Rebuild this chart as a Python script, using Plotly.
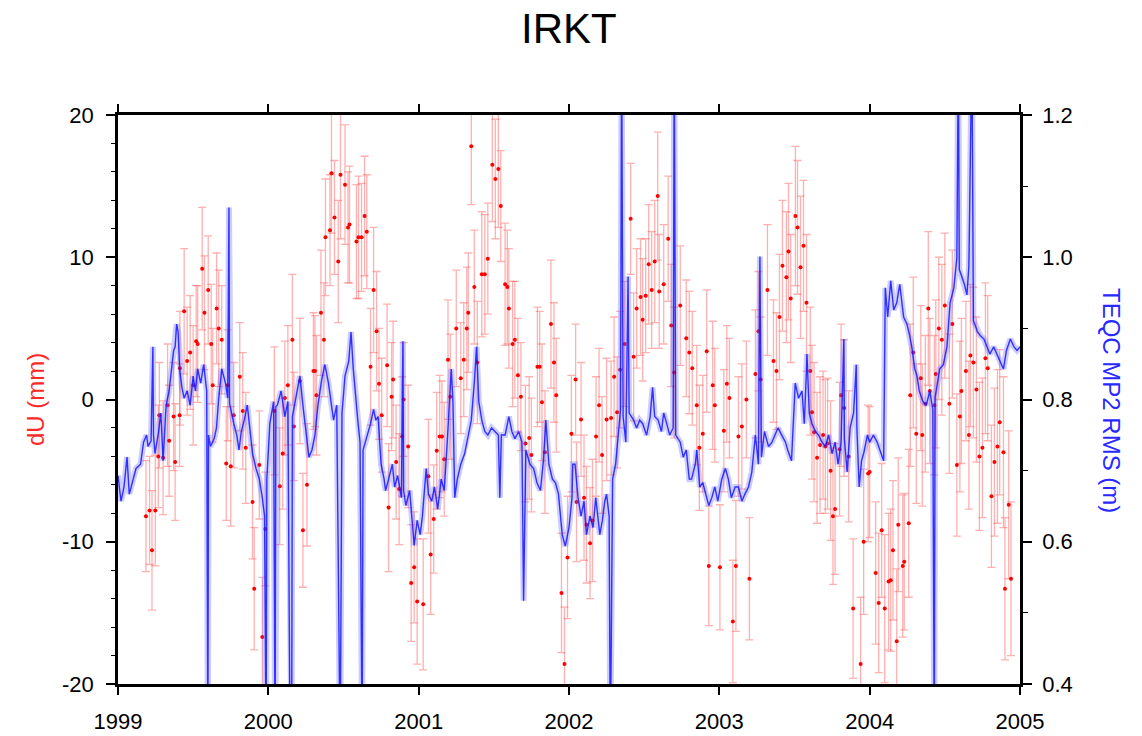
import plotly.graph_objects as go

# ---------------- red series: dU (mm) with error bars ----------------
red_t_a = [1999.186, 1999.21, 1999.226, 1999.248, 1999.268, 1999.275, 1999.30, 1999.33, 1999.34, 1999.37,
           1999.38, 1999.41, 1999.412, 1999.44, 1999.46, 1999.48, 1999.50, 1999.52, 1999.53, 1999.56,
           1999.575, 1999.60, 1999.62, 1999.63, 1999.656, 1999.67, 1999.69, 1999.72, 1999.73, 1999.75,
           1999.77, 1999.81, 1999.83, 1999.85, 1999.895, 1999.906, 1999.94, 1999.96, 1999.98, 2000.04,
           2000.076, 2000.096, 2000.11, 2000.13, 2000.16, 2000.17, 2000.21, 2000.23, 2000.257, 2000.30,
           2000.31, 2000.32, 2000.35, 2000.37, 2000.38, 2000.41, 2000.42]
red_u_a = [-8.2, -7.8, -10.6, -7.8, -4.0, -1.1, -4.1, -0.4, -2.9, -1.2,
           -4.4, -1.1, 2.2, 6.2, 2.7, 3.3, 1.0, 4.1, 3.9, 9.2,
           6.1, 7.7, 3.9, 1.0, 6.4, 5.0, 4.2, -4.5, 1.0, -4.7,
           -1.1, 1.6, -0.8, -3.4, -7.2, -13.3, -4.6, -16.7, -9.1, -0.8,
           -6.1, -3.8, 0.1, 1.0, 4.2, -1.9, 1.3, -9.2, -6.0, 2.0,
           2.0, 0.3, 6.1, 4.2, 11.4, 11.9, 15.9]
red_e_a = [3.9, 3.8, 4.2, 3.9, 3.6, 3.7, 4.0, 4.3, 3.9, 3.8,
           4.1, 3.6, 4.0, 4.4, 3.8, 4.0, 4.2, 3.9, 4.1, 4.3,
           4.0, 3.8, 4.2, 4.0, 3.9, 4.1, 3.8, 4.0, 3.9, 4.2,
           3.7, 3.8, 4.1, 3.9, 4.0, 4.3, 3.8, 4.2, 4.0, 4.5,
           4.1, 3.9, 4.0, 4.2, 4.6, 3.8, 4.4, 4.0, 4.3, 4.1,
           3.9, 4.2, 4.4, 4.0, 4.1, 3.9, 4.2]

red_t_b = [2000.44, 2000.465, 2000.48, 2000.51, 2000.53, 2000.54, 2000.586, 2000.60, 2000.62, 2000.64,
           2000.655, 2000.68, 2000.70, 2000.72, 2000.736, 2000.754, 2000.79, 2000.80, 2000.82, 2000.83,
           2000.85, 2000.87, 2000.89, 2000.90, 2000.93, 2000.95, 2000.97, 2000.99, 2001.03, 2001.065,
           2001.08, 2001.10, 2001.12, 2001.14, 2001.155, 2001.17, 2001.195, 2001.21, 2001.25, 2001.28,
           2001.30, 2001.32, 2001.33, 2001.35, 2001.37, 2001.39, 2001.42, 2001.44, 2001.46, 2001.49,
           2001.51, 2001.53, 2001.546, 2001.575, 2001.59, 2001.60, 2001.625, 2001.64, 2001.66, 2001.68,
           2001.71, 2001.735, 2001.75, 2001.79, 2001.805, 2001.82, 2001.84, 2001.88, 2001.90, 2001.915]
red_u_b = [12.8, 9.7, 15.8, 15.1, 12.1, 12.3, 11.1, 11.4, 11.4, 12.9,
           11.8, 2.3, 7.7, 4.8, 1.1, -1.1, 2.4, -7.6, 0.2, 1.4,
           -4.4, -6.3, -2.6, 0.0, -3.3, -12.9, -11.8, -14.2, -14.4, -5.4,
           -10.9, -8.4, -3.6, -2.6, -2.6, -4.2, 2.8, 0.2, 5.0, 1.5,
           2.8, 5.0, 6.1, 17.8, 7.9, 2.6, 8.8, 8.8, 9.9, 16.5,
           15.5, 16.2, 13.6, 8.1, 7.9, 6.4, 3.9, 4.2, 1.7, 0.2,
           -3.1, -2.7, -3.9, 2.3, 2.3, -0.2, -3.7, 5.3, 2.6, 0.3]
red_e_b = [4.0, 4.3, 4.5, 4.2, 3.9, 4.1, 4.0, 4.3, 3.8, 4.2,
           4.0, 4.1, 4.4, 4.2, 3.9, 4.0, 4.3, 4.5, 3.8, 4.1,
           4.0, 3.9, 4.2, 4.0, 4.3, 4.1, 3.9, 4.4, 4.6, 4.0,
           4.2, 3.8, 4.1, 4.3, 3.9, 4.0, 4.2, 4.4, 4.1, 3.9,
           4.0, 4.3, 4.2, 4.1, 4.0, 4.3, 4.4, 4.2, 3.9, 4.0,
           4.2, 4.1, 3.9, 4.3, 4.0, 4.2, 4.4, 4.1, 4.0, 3.8,
           4.1, 4.3, 4.0, 4.2, 3.9, 4.1, 4.3, 4.5, 4.2, 4.0]

red_t_c = [2001.95, 2001.97, 2001.99, 2002.016, 2002.044, 2002.05, 2002.08, 2002.10, 2002.116, 2002.14,
           2002.156, 2002.18, 2002.20, 2002.22, 2002.25, 2002.28, 2002.30, 2002.32, 2002.34, 2002.37,
           2002.41, 2002.43, 2002.45, 2002.476, 2002.49, 2002.51, 2002.53, 2002.55, 2002.57, 2002.59,
           2002.60, 2002.63, 2002.66, 2002.68, 2002.70, 2002.74, 2002.78, 2002.80, 2002.82, 2002.85,
           2002.867, 2002.89, 2002.916, 2002.93, 2002.956, 2002.97, 2003.004, 2003.03, 2003.05, 2003.067,
           2003.09, 2003.11, 2003.127, 2003.15, 2003.18, 2003.20, 2003.24, 2003.26, 2003.275, 2003.32,
           2003.36, 2003.38, 2003.40, 2003.42]
red_u_c = [-13.6, -18.6, -11.1, -2.4, 1.4, -7.2, -1.4, -6.9, -8.8, -10.1,
           -8.5, -2.6, -0.4, -3.9, -1.4, -1.3, 1.6, -0.9, 2.1, 3.9,
           12.7, 3.0, 6.4, 7.2, 5.6, 7.3, 9.5, 7.7, 9.7, 14.3,
           7.6, 8.1, 11.3, 5.2, 1.9, 6.6, 4.3, 3.3, 2.2, -0.4,
           -3.4, -2.4, 3.4, -11.7, 1.0, -0.4, -11.8, -2.2, 1.1, 0.1,
           -15.6, -11.7, -2.6, -1.9, 0.0, -12.6, 1.8, 4.8, 1.4, 7.7,
           2.7, 2.0, 5.8, 9.4]
red_e_c = [4.2, 4.0, 4.3, 4.1, 3.9, 4.2, 4.0, 4.4, 4.1, 3.9,
           4.3, 4.2, 4.0, 4.1, 4.3, 4.0, 4.2, 3.9, 4.1, 4.4,
           3.9, 4.5, 4.2, 4.1, 4.3, 4.0, 4.2, 4.1, 4.3, 4.5,
           4.0, 4.2, 4.4, 4.3, 4.6, 4.2, 4.1, 4.3, 4.0, 4.2,
           4.4, 4.1, 4.3, 4.2, 4.5, 4.0, 4.4, 4.3, 4.1, 4.2,
           4.3, 4.6, 4.2, 4.4, 4.1, 4.3, 4.5, 4.2, 4.4, 4.6,
           4.3, 4.1, 4.4, 4.6]

red_t_d = [2003.446, 2003.46, 2003.475, 2003.506, 2003.52, 2003.54, 2003.56, 2003.58, 2003.605, 2003.616,
           2003.63, 2003.65, 2003.67, 2003.69, 2003.705, 2003.72, 2003.74, 2003.756, 2003.77, 2003.80,
           2003.81, 2003.83, 2003.86, 2003.89, 2003.94, 2003.96, 2003.99, 2004.00, 2004.04, 2004.06,
           2004.08, 2004.10, 2004.126, 2004.14, 2004.155, 2004.18, 2004.19, 2004.22, 2004.23, 2004.26,
           2004.27, 2004.29, 2004.31, 2004.34, 2004.35, 2004.37, 2004.39, 2004.40, 2004.43, 2004.44,
           2004.46, 2004.48, 2004.50, 2004.53, 2004.55, 2004.58, 2004.60, 2004.61, 2004.64, 2004.66,
           2004.67, 2004.69, 2004.71, 2004.73, 2004.75, 2004.77, 2004.785, 2004.81, 2004.83, 2004.85,
           2004.865, 2004.89, 2004.90, 2004.925, 2004.94]
red_u_d = [8.6, 10.4, 7.1, 12.9, 12.1, 9.3, 10.8, 6.8, 2.0, -0.9,
           -2.3, -4.1, -3.2, -2.5, -3.3, -3.1, -5.0, -8.2, -7.7, -3.5,
           0.3, -0.6, -4.0, -14.7, -18.6, -10.0, -5.2, -5.1, -12.2, -14.3,
           -9.2, -14.7, -12.8, -12.7, -10.6, -17.0, -8.8, -11.7, -11.4, -8.7,
           0.3, 3.3, -2.4, 1.5, -2.5, -0.3, 6.4, 0.6, -0.4, 1.8,
           5.0, 4.2, 6.6, -0.3, 5.3, -4.6, -1.2, 0.6, 2.0, -2.5,
           3.1, 2.6, 0.7, -4.0, -3.4, 2.9, 2.2, -6.8, -4.4, -3.3,
           -1.6, -3.7, -13.3, -7.4, -12.6]
red_e_d = [4.6, 4.8, 4.5, 4.9, 4.7, 5.0, 4.6, 4.8, 4.5, 4.7,
           4.9, 4.6, 4.8, 4.5, 4.7, 4.6, 4.9, 4.8, 4.6, 4.7,
           5.0, 4.8, 4.6, 4.9, 4.7, 5.1, 4.8, 4.6, 5.0, 4.9,
           4.7, 5.2, 4.8, 5.0, 4.9, 5.1, 4.7, 5.0, 4.8, 5.2,
           5.0, 5.3, 4.9, 5.1, 5.0, 4.8, 5.4, 5.1, 4.9, 5.2,
           5.0, 5.3, 5.1, 4.9, 5.2, 5.0, 5.3, 5.1, 4.9, 5.2,
           5.0, 5.3, 5.1, 5.2, 4.9, 5.3, 5.1, 5.0, 5.2, 5.4,
           5.1, 5.3, 5.0, 5.2, 5.4]

# ---------------- blue series: TEQC MP2 RMS (m) ----------------
blue_t_a = [1999.00, 1999.02, 1999.04, 1999.06, 1999.075, 1999.10, 1999.12, 1999.15, 1999.17, 1999.19,
            1999.20, 1999.22, 1999.232, 1999.236, 1999.246, 1999.27, 1999.285, 1999.30, 1999.32, 1999.34,
            1999.358, 1999.37, 1999.38, 1999.39, 1999.40, 1999.41, 1999.425, 1999.44, 1999.46, 1999.48,
            1999.50, 1999.515, 1999.53, 1999.55, 1999.57, 1999.59, 1999.598, 1999.602, 1999.615, 1999.64,
            1999.655, 1999.67, 1999.69, 1999.715, 1999.73, 1999.738, 1999.742, 1999.75, 1999.77, 1999.79,
            1999.805, 1999.82, 1999.84, 1999.86, 1999.88, 1999.895, 1999.918, 1999.94, 1999.96, 1999.975,
            1999.985, 1999.99, 2000.01, 2000.035, 2000.045, 2000.05, 2000.06, 2000.085, 2000.11, 2000.13,
            2000.145, 2000.155, 2000.16, 2000.19, 2000.21, 2000.23, 2000.25, 2000.27, 2000.29, 2000.31,
            2000.33, 2000.355, 2000.376, 2000.40, 2000.42]
blue_v_a = [0.693, 0.657, 0.677, 0.719, 0.667, 0.688, 0.703, 0.709, 0.740, 0.750,
            0.734, 0.742, 0.874, 0.750, 0.724, 0.755, 0.781, 0.714, 0.792, 0.812,
            0.843, 0.869, 0.874, 0.906, 0.895, 0.843, 0.817, 0.802, 0.812, 0.792,
            0.833, 0.812, 0.843, 0.823, 0.849, 0.812, 0.300, 0.750, 0.734, 0.745,
            0.760, 0.802, 0.843, 0.823, 0.802, 1.070, 0.795, 0.786, 0.766, 0.750,
            0.729, 0.755, 0.771, 0.792, 0.750, 0.724, 0.703, 0.688, 0.662, 0.636,
            0.300, 0.688, 0.766, 0.797, 0.300, 0.790, 0.792, 0.812, 0.776, 0.797,
            0.300, 0.300, 0.776, 0.812, 0.833, 0.792, 0.755, 0.719, 0.729, 0.750,
            0.792, 0.828, 0.849, 0.823, 0.792]

blue_t_b = [2000.434, 2000.455, 2000.478, 2000.49, 2000.51, 2000.535, 2000.55, 2000.565, 2000.58, 2000.595,
            2000.61, 2000.624, 2000.63, 2000.66, 2000.68, 2000.70, 2000.715, 2000.73, 2000.75, 2000.77,
            2000.78, 2000.80, 2000.825, 2000.84, 2000.86, 2000.885, 2000.895, 2000.90, 2000.915, 2000.94,
            2000.95, 2000.97, 2000.99, 2001.01, 2001.025, 2001.05, 2001.065, 2001.087, 2001.105, 2001.127,
            2001.15, 2001.17, 2001.19, 2001.206, 2001.217, 2001.228, 2001.24, 2001.257, 2001.28, 2001.306,
            2001.33, 2001.35, 2001.37, 2001.385, 2001.40, 2001.42, 2001.44, 2001.46, 2001.485, 2001.51,
            2001.53, 2001.54, 2001.55, 2001.575, 2001.60, 2001.62, 2001.64, 2001.665, 2001.687, 2001.698,
            2001.713, 2001.74, 2001.765, 2001.787, 2001.81, 2001.83, 2001.846, 2001.866, 2001.89, 2001.91,
            2001.93]
blue_v_b = [0.771, 0.792, 0.300, 0.781, 0.833, 0.854, 0.895, 0.843, 0.802, 0.771,
            0.740, 0.300, 0.729, 0.750, 0.766, 0.786, 0.771, 0.776, 0.709, 0.688,
            0.672, 0.688, 0.709, 0.677, 0.693, 0.662, 0.882, 0.672, 0.651, 0.672,
            0.646, 0.595, 0.630, 0.610, 0.636, 0.703, 0.667, 0.657, 0.677, 0.646,
            0.688, 0.672, 0.740, 0.812, 0.843, 0.797, 0.662, 0.688, 0.709, 0.724,
            0.750, 0.771, 0.823, 0.874, 0.797, 0.771, 0.755, 0.750, 0.760, 0.755,
            0.750, 0.662, 0.750, 0.750, 0.776, 0.755, 0.745, 0.755, 0.740, 0.517,
            0.729, 0.709, 0.703, 0.683, 0.672, 0.714, 0.771, 0.709, 0.688, 0.683,
            0.667]

blue_t_c = [2001.955, 2001.975, 2002.00, 2002.02, 2002.025, 2002.04, 2002.06, 2002.08, 2002.10, 2002.116,
            2002.14, 2002.16, 2002.178, 2002.194, 2002.205, 2002.222, 2002.238, 2002.25, 2002.267, 2002.275,
            2002.29, 2002.31, 2002.33, 2002.343, 2002.35, 2002.36, 2002.378, 2002.393, 2002.40, 2002.43,
            2002.45, 2002.47, 2002.49, 2002.516, 2002.54, 2002.556, 2002.57, 2002.593, 2002.615, 2002.63,
            2002.65, 2002.67, 2002.693, 2002.70, 2002.71, 2002.74, 2002.76, 2002.78, 2002.80, 2002.815,
            2002.84, 2002.85, 2002.87, 2002.89, 2002.916, 2002.93, 2002.95, 2002.97, 2002.99, 2003.016,
            2003.04, 2003.06, 2003.08, 2003.105, 2003.127, 2003.15, 2003.17, 2003.194, 2003.216, 2003.24,
            2003.26, 2003.27, 2003.28, 2003.30, 2003.327, 2003.35, 2003.37, 2003.39, 2003.415]
blue_v_c = [0.610, 0.594, 0.620, 0.662, 0.709, 0.709, 0.662, 0.636, 0.657, 0.610,
            0.636, 0.620, 0.662, 0.636, 0.610, 0.630, 0.657, 0.667, 0.636, 0.300,
            0.688, 0.709, 0.750, 0.786, 1.300, 0.776, 0.740, 0.973, 0.781, 0.771,
            0.760, 0.771, 0.766, 0.750, 0.776, 0.817, 0.776, 0.771, 0.755, 0.781,
            0.766, 0.750, 0.760, 1.300, 0.750, 0.740, 0.719, 0.729, 0.688, 0.688,
            0.709, 0.729, 0.677, 0.683, 0.662, 0.651, 0.662, 0.677, 0.657, 0.688,
            0.703, 0.688, 0.662, 0.677, 0.677, 0.657, 0.667, 0.677, 0.698, 0.750,
            0.709, 1.001, 0.719, 0.755, 0.734, 0.740, 0.750, 0.760, 0.750]

blue_t_d = [2003.44, 2003.455, 2003.48, 2003.505, 2003.527, 2003.55, 2003.565, 2003.58, 2003.583, 2003.598,
            2003.616, 2003.64, 2003.66, 2003.683, 2003.705, 2003.727, 2003.75, 2003.77, 2003.79, 2003.81,
            2003.828, 2003.832, 2003.85, 2003.87, 2003.893, 2003.911, 2003.915, 2003.93, 2003.946, 2003.96,
            2003.985, 2004.00, 2004.025, 2004.05, 2004.07, 2004.093, 2004.104, 2004.12, 2004.14, 2004.16,
            2004.18, 2004.20, 2004.226, 2004.248, 2004.266, 2004.28, 2004.30, 2004.315, 2004.33, 2004.355,
            2004.377, 2004.40, 2004.42, 2004.43, 2004.435, 2004.466, 2004.49, 2004.514, 2004.535, 2004.56,
            2004.58, 2004.59, 2004.596, 2004.63, 2004.647, 2004.66, 2004.68, 2004.69, 2004.718, 2004.735,
            2004.76, 2004.78, 2004.80, 2004.825, 2004.847, 2004.87, 2004.89, 2004.91, 2004.936, 2004.96,
            2004.98, 2005.00]
blue_v_d = [0.740, 0.729, 0.714, 0.823, 0.802, 0.812, 0.766, 0.843, 0.864, 0.781,
            0.766, 0.755, 0.750, 0.740, 0.734, 0.750, 0.724, 0.740, 0.709, 0.740,
            0.885, 0.745, 0.698, 0.760, 0.781, 0.849, 0.760, 0.677, 0.714, 0.724,
            0.750, 0.740, 0.750, 0.740, 0.729, 0.714, 0.957, 0.916, 0.967, 0.926,
            0.936, 0.962, 0.916, 0.906, 0.890, 0.874, 0.843, 0.833, 0.812, 0.797,
            0.792, 0.812, 0.786, 0.300, 0.802, 0.843, 0.849, 0.874, 0.936, 0.957,
            0.999, 1.300, 0.983, 0.962, 0.947, 0.988, 1.300, 0.911, 0.895, 0.890,
            0.885, 0.874, 0.864, 0.874, 0.864, 0.854, 0.843, 0.869, 0.885, 0.874,
            0.869, 0.874]

red_t = red_t_a + red_t_b + red_t_c + red_t_d
red_u = red_u_a + red_u_b + red_u_c + red_u_d
red_e = red_e_a + red_e_b + red_e_c + red_e_d
blue_t = blue_t_a + blue_t_b + blue_t_c + blue_t_d
blue_v = blue_v_a + blue_v_b + blue_v_c + blue_v_d

year_ticks = [1999, 2000, 2001, 2002, 2003, 2004, 2005]
du_ticks = [-20, -10, 0, 10, 20]
du_tick_text = ["-20", "-10", "0", "10", "20"]
rms_ticks = [0.4, 0.6, 0.8, 1.0, 1.2]
rms_tick_text = ["0.4", "0.6", "0.8", "1.0", "1.2"]

FONT = "Liberation Sans, Arial, Helvetica, sans-serif"

fig = go.Figure()

# light blue envelope under the daily line
fig.add_trace(go.Scatter(x=blue_t, y=blue_v, yaxis="y2", mode="lines",
                         line=dict(color="rgba(90,90,255,0.30)", width=6),
                         hoverinfo="skip", showlegend=False))
fig.add_trace(go.Scatter(x=blue_t, y=blue_v, yaxis="y2", mode="lines",
                         line=dict(color="rgba(20,20,255,0.85)", width=1.4),
                         showlegend=False))

fig.add_trace(go.Scatter(x=red_t, y=red_u, mode="markers",
                         marker=dict(color="rgb(255,0,0)", size=4),
                         error_y=dict(type="data", array=red_e, visible=True,
                                      color="rgba(255,80,80,0.45)", thickness=1.3, width=4),
                         showlegend=False))

axis_common = dict(showgrid=False, zeroline=False, showline=True, linecolor="black",
                   linewidth=2.5, ticks="outside", tickcolor="black", tickwidth=1.5,
                   automargin=False,
                   tickfont=dict(family=FONT, size=22, color="black"))

minor_du = [v for v in range(-20, 21, 2)]
minor_rms = [round(0.4 + 0.1 * i, 1) for i in range(9)]

fig.update_layout(
    width=1142, height=736,
    margin=dict(l=118, r=122, t=115, b=52, autoexpand=False),
    paper_bgcolor="white", plot_bgcolor="white",
    font=dict(family=FONT),
    xaxis=dict(range=[1999, 2005], tickmode="array", tickvals=year_ticks,
               ticktext=[str(y) for y in year_ticks], ticklen=8, mirror="ticks",
               ticklabelstandoff=8, **axis_common),
    yaxis=dict(range=[-20, 20], tickmode="array", tickvals=du_ticks, ticktext=du_tick_text,
               ticklen=9, ticklabelstandoff=8,
               minor=dict(tickmode="array", tickvals=minor_du, ticks="outside", ticklen=4,
                          tickcolor="black", tickwidth=1),
               **axis_common),
    yaxis2=dict(range=[0.4, 1.2], overlaying="y", side="right", tickmode="array",
                tickvals=rms_ticks, ticktext=rms_tick_text, ticklen=9, ticklabelstandoff=6,
                minor=dict(tickmode="array", tickvals=minor_rms, ticks="outside", ticklen=5,
                           tickcolor="black", tickwidth=1),
                **axis_common),
    annotations=[
        dict(text="IRKT", xref="paper", yref="paper", x=0.5, y=1 + (115 - 29) / 569,
             xanchor="center", yanchor="middle", showarrow=False,
             font=dict(family=FONT, size=42, color="black")),
        dict(text="dU (mm)", xref="paper", yref="paper", x=(35 - 118) / 902, y=(684 - 400) / 569,
             xanchor="center", yanchor="middle", textangle=-90, showarrow=False,
             font=dict(family=FONT, size=24, color="rgb(255,40,40)")),
        dict(text="TEQC MP2 RMS (m)", xref="paper", yref="paper", x=(1112 - 118) / 902,
             y=(684 - 400) / 569, xanchor="center", yanchor="middle", textangle=90,
             showarrow=False, font=dict(family=FONT, size=24, color="rgb(40,40,255)")),
    ],
)

fig.write_html("out.html")
